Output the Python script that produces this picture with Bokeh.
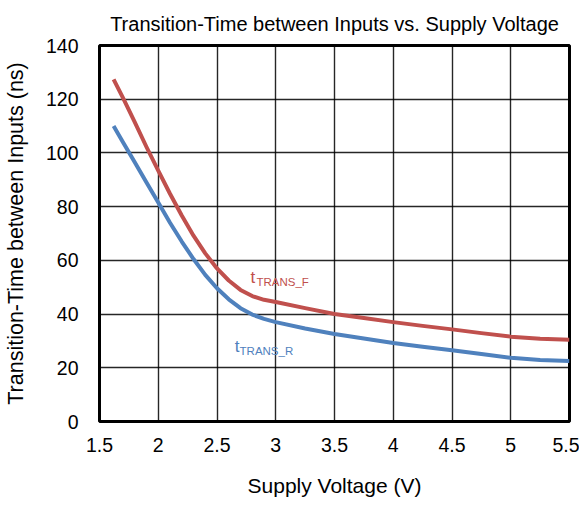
from bokeh.plotting import figure
from bokeh.models import FixedTicker, Range1d, Label
from bokeh.embed import file_html
from bokeh.resources import INLINE

# Data
voltage_f = [1.62, 1.7, 1.8, 1.9, 2.0, 2.1, 2.2, 2.3, 2.4, 2.5, 2.6, 2.7, 2.8, 2.9, 3.0,
             3.25, 3.5, 3.75, 4.0, 4.25, 4.5, 4.75, 5.0, 5.25, 5.5]
t_trans_f = [127.4, 120.5, 111.5, 102.2, 93.4, 84.8, 76.7, 69.2, 62.6, 57.0, 52.5, 49.0,
             46.7, 45.3, 44.5, 42.2, 40.0, 38.5, 37.0, 35.6, 34.3, 32.9, 31.6, 30.8, 30.4]
voltage_r = [1.62, 1.7, 1.8, 1.9, 2.0, 2.1, 2.2, 2.3, 2.4, 2.5, 2.6, 2.7, 2.8, 2.9, 3.0,
             3.25, 3.5, 3.75, 4.0, 4.25, 4.5, 4.75, 5.0, 5.25, 5.5]
t_trans_r = [110.0, 104.0, 96.5, 89.0, 81.5, 74.0, 67.0, 60.5, 54.6, 49.6, 45.5, 42.2,
             39.8, 38.2, 37.0, 34.6, 32.6, 30.9, 29.2, 27.8, 26.5, 25.1, 23.7, 22.9, 22.5]

x_ticks = [1.5, 2, 2.5, 3, 3.5, 4, 4.5, 5, 5.5]
x_tick_labels = ["1.5", "2", "2.5", "3", "3.5", "4", "4.5", "5", "5.5"]
y_ticks = [0, 20, 40, 60, 80, 100, 120, 140]
y_tick_labels = ["0", "20", "40", "60", "80", "100", "120", "140"]

title_text = "Transition-Time between Inputs vs. Supply Voltage"
x_label = "Supply Voltage (V)"
y_label = "Transition-Time between Inputs (ns)"

RED = "#C0504D"
BLUE = "#4F81BD"
FONT = "Liberation Sans"

p = figure(width=579, height=499, output_backend="svg", toolbar_location=None,
           x_range=Range1d(1.5, 5.5), y_range=Range1d(0, 140),
           min_border_left=96, min_border_right=10, min_border_top=45, min_border_bottom=77)

p.title.text = title_text
p.title.text_font = FONT
p.title.text_font_size = "20px"
p.title.text_font_style = "normal"
p.title.align = "center"
p.title.offset = 8
p.title.text_color = "#000000"
p.title.standoff = 21

for ax, ticks, labels in ((p.xaxis[0], x_ticks, x_tick_labels), (p.yaxis[0], y_ticks, y_tick_labels)):
    ax.ticker = FixedTicker(ticks=ticks)
    ax.major_label_overrides = {t: l for t, l in zip(ticks, labels)}
    ax.major_label_text_font = FONT
    ax.major_label_text_font_size = "19.5px"
    ax.major_label_text_color = "#000000"
    ax.axis_label_text_font = FONT
    ax.axis_label_text_font_style = "normal"
    ax.axis_label_text_color = "#000000"
    ax.axis_line_color = None
    ax.major_tick_line_color = None
    ax.minor_tick_line_color = None

p.xaxis.axis_label = x_label
p.yaxis.axis_label = y_label
p.xaxis.axis_label_text_font_size = "21px"
p.yaxis.axis_label_text_font_size = "21.5px"
p.xaxis.major_label_standoff = 10
p.yaxis.major_label_standoff = 15
p.xaxis.axis_label_standoff = 19
p.yaxis.axis_label_standoff = 15

p.xgrid.grid_line_color = "#000000"
p.ygrid.grid_line_color = "#000000"
p.xgrid.grid_line_width = 1.4
p.ygrid.grid_line_width = 1.4
p.xgrid.grid_line_alpha = 0.85
p.ygrid.grid_line_alpha = 0.85

p.outline_line_color = "#000000"
p.outline_line_width = 3
p.outline_line_alpha = 1
p.background_fill_color = "white"
p.border_fill_color = "white"

p.line(voltage_f, t_trans_f, line_color=RED, line_width=4, line_join="round")
p.line(voltage_r, t_trans_r, line_color=BLUE, line_width=4, line_join="round")

# Curve labels: t with subscript
p.add_layout(Label(x=2.785, y=53.6, text="t", text_color=RED, text_font=FONT,
                   text_font_size="17px", text_baseline="alphabetic"))
p.add_layout(Label(x=2.836, y=51.8, text="TRANS_F", text_color=RED, text_font=FONT,
                   text_font_size="11.5px", text_baseline="alphabetic"))
p.add_layout(Label(x=2.650, y=27.8, text="t", text_color=BLUE, text_font=FONT,
                   text_font_size="17px", text_baseline="alphabetic"))
p.add_layout(Label(x=2.692, y=26.4, text="TRANS_R", text_color=BLUE, text_font=FONT,
                   text_font_size="11.5px", text_baseline="alphabetic"))

open("out.html", "w").write(file_html(p, INLINE))
